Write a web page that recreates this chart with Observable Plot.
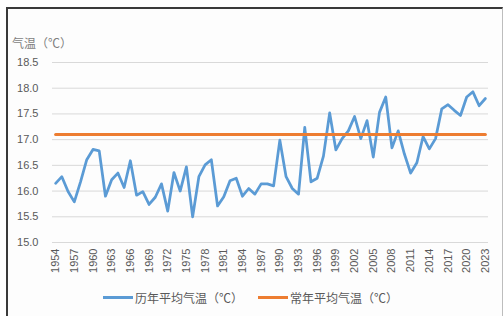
<!DOCTYPE html>
<html>
<head>
<meta charset="utf-8">
<script src="https://cdn.jsdelivr.net/npm/d3@7"></script>
<script src="https://cdn.jsdelivr.net/npm/@observablehq/plot@0.6"></script>
<style>
  html, body { margin: 0; padding: 0; background: #fff; width: 504px; height: 316px; overflow: hidden; }
  #frame { position: absolute; left: 6px; top: 7px; width: 494px; height: 312px; background: #fdfdfd;
           border-left: 2px solid #3a3a3a; border-top: 2px solid #3a3a3a; border-right: 1px solid #bdbdbd; }
  #chart { position: absolute; left: 0; top: 0; }
  #ytitle { position: absolute; left: 12px; top: 34px; font: 12px "Noto Sans CJK SC", sans-serif; color: #7f7f7f; }
  #legend { position: absolute; top: 289px; left: 0; width: 504px; font: 12px "Noto Sans CJK SC", sans-serif; color: #595959; }
  .item { position: absolute; display: flex; align-items: center; white-space: nowrap; }
  .sw { display: inline-block; width: 30px; height: 3px; margin-right: 2px; }
</style>
</head>
<body>
<div id="frame"></div>
<div id="chart"></div>
<div id="ytitle">气温（℃）</div>
<div id="legend"></div>
<script>
const years = d3.range(1954, 2024);
const annualTemp = [
  16.15, 16.28, 15.99, 15.79, 16.18, 16.61, 16.81, 16.78, 15.90, 16.22,
  16.35, 16.07, 16.59, 15.92, 15.99, 15.74, 15.88, 16.14, 15.61, 16.36,
  16.00, 16.47, 15.50, 16.28, 16.51, 16.61, 15.71, 15.89, 16.20, 16.25,
  15.90, 16.05, 15.94, 16.14, 16.14, 16.10, 16.99, 16.28, 16.05, 15.94,
  17.24, 16.18, 16.25, 16.68, 17.52, 16.80, 17.02, 17.17, 17.45, 17.02,
  17.37, 16.66, 17.53, 17.83, 16.84, 17.17, 16.72, 16.35, 16.55, 17.06,
  16.82, 17.02, 17.60, 17.68, 17.57, 17.47, 17.83, 17.93, 17.66, 17.80
];
const normalTemp = 17.1;
const yTicks = [15.0, 15.5, 16.0, 16.5, 17.0, 17.5, 18.0, 18.5];
const xTicks = years.filter((d, i) => i % 3 === 0);
const seriesNames = ["历年平均气温（℃）", "常年平均气温（℃）"];
const seriesColors = ["#5b9bd5", "#ed7d31"];

const annual = years.map((y, i) => ({year: y, v: annualTemp[i]}));
const normal = years.map(y => ({year: y, v: normalTemp}));

const plot = Plot.plot({
  width: 504,
  height: 290,
  marginLeft: 52,
  marginRight: 16,
  marginTop: 62,
  marginBottom: 48,
  style: {background: "transparent", fontFamily: "'Liberation Sans', Arial, sans-serif", fontSize: "11px", color: "#595959"},
  x: {type: "linear", domain: [years[0] - 0.5, years[years.length - 1] + 0.5], ticks: xTicks, tickFormat: d => String(d), tickRotate: -90, tickSize: 0, tickPadding: 6, label: null},
  y: {domain: [15, 18.5], ticks: yTicks, tickFormat: d => d.toFixed(1), tickSize: 0, tickPadding: 14, label: null},
  marks: [
    Plot.ruleY(yTicks, {stroke: "#d9d9d9", strokeWidth: 1}),
    Plot.line(annual, {x: "year", y: "v", stroke: seriesColors[0], strokeWidth: 2.75, strokeLinejoin: "round"}),
    Plot.line(normal, {x: "year", y: "v", stroke: seriesColors[1], strokeWidth: 3})
  ]
});
document.getElementById("chart").appendChild(plot);

const legend = document.getElementById("legend");
const lefts = [103, 258];
seriesNames.forEach((name, i) => {
  const it = document.createElement("div");
  it.className = "item";
  it.style.left = lefts[i] + "px";
  const sw = document.createElement("span");
  sw.className = "sw";
  sw.style.background = seriesColors[i];
  it.appendChild(sw);
  const t = document.createElement("span");
  t.textContent = name;
  it.appendChild(t);
  legend.appendChild(it);
});
</script>
</body>
</html>
